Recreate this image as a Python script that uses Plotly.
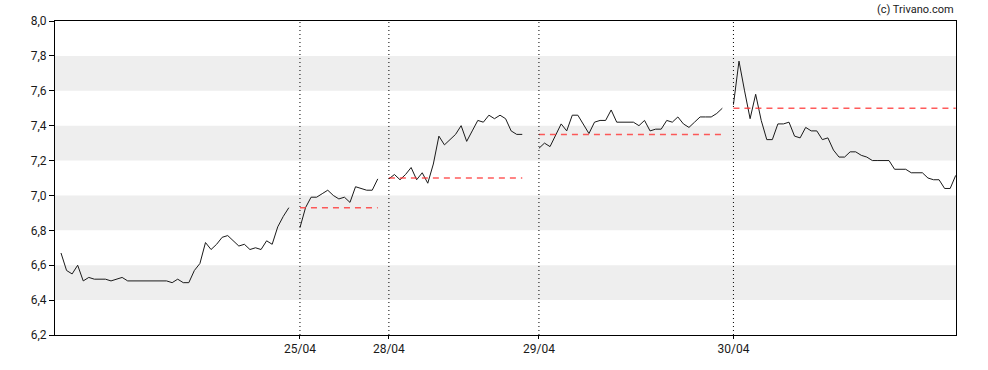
import plotly.graph_objects as go

# --- data -------------------------------------------------------------
day_24 = [6.67, 6.57, 6.55, 6.60, 6.51, 6.53, 6.52, 6.52, 6.52, 6.51,
          6.52, 6.53, 6.51, 6.51, 6.51, 6.51, 6.51, 6.51, 6.51, 6.51,
          6.50, 6.52, 6.50, 6.50, 6.57, 6.61, 6.73, 6.69, 6.72, 6.76,
          6.77, 6.74, 6.71, 6.72, 6.69, 6.70, 6.69, 6.74, 6.72, 6.82,
          6.88, 6.93]
day_25 = [6.815, 6.93, 6.99, 6.99, 7.01, 7.03, 7.00, 6.98, 6.99, 6.96,
          7.05, 7.04, 7.03, 7.03, 7.095]
day_28 = [7.095, 7.12, 7.09, 7.12, 7.16, 7.09, 7.13, 7.07, 7.18, 7.34,
          7.29, 7.32, 7.35, 7.40, 7.31, 7.37, 7.43, 7.42, 7.46, 7.44,
          7.46, 7.44, 7.37, 7.35, 7.35]
day_29 = [7.27, 7.30, 7.28, 7.35, 7.41, 7.37, 7.46, 7.46, 7.41, 7.355,
          7.42, 7.43, 7.43, 7.49, 7.42, 7.42, 7.42, 7.42, 7.40, 7.43,
          7.37, 7.38, 7.38, 7.43, 7.42, 7.45, 7.41, 7.39, 7.42, 7.45,
          7.45, 7.45, 7.47, 7.50]
day_30 = [7.52, 7.77, 7.60, 7.44, 7.58, 7.43, 7.32, 7.32, 7.41, 7.41,
          7.42, 7.34, 7.33, 7.39, 7.37, 7.37, 7.32, 7.33, 7.26, 7.22,
          7.22, 7.25, 7.25, 7.23, 7.22, 7.20, 7.20, 7.20, 7.20, 7.15,
          7.15, 7.15, 7.13, 7.13, 7.13, 7.10, 7.09, 7.09, 7.04, 7.04,
          7.115]

days = [day_24, day_25, day_28, day_29, day_30]
day_start = [0, 43, 59, 86, 121]          # slot index where each session begins
day_labels = ["", "25/04", "28/04", "29/04", "30/04"]
prev_close = [None, 6.93, 7.10, 7.35, 7.50]

y_ticks = [6.2, 6.4, 6.6, 6.8, 7.0, 7.2, 7.4, 7.6, 7.8, 8.0]
y_tick_text = [f"{v:.1f}".replace(".", ",") for v in y_ticks]
bands = [(6.4, 6.6), (6.8, 7.0), (7.2, 7.4), (7.6, 7.8)]

# --- figure -----------------------------------------------------------
fig = go.Figure()

x_min, x_max = -1.08, 161.05

shapes = []
for lo, hi in bands:
    shapes.append(dict(type="rect", xref="paper", yref="y", x0=0, x1=1,
                       y0=lo, y1=hi, fillcolor="#eeeeee", line_width=0,
                       layer="below"))
for s, lab in zip(day_start, day_labels):
    if lab:
        shapes.append(dict(type="line", xref="x", yref="paper", x0=s, x1=s,
                           y0=0, y1=1, line=dict(color="#000000", width=1,
                                                 dash="1px,3px"),
                           layer="above"))

for vals, s in zip(days, day_start):
    xs = list(range(s, s + len(vals)))
    fig.add_trace(go.Scatter(x=xs, y=vals, mode="lines",
                             line=dict(color="#1a1a1a", width=1),
                             hoverinfo="skip", showlegend=False))

for vals, s, pc in zip(days, day_start, prev_close):
    if pc is None:
        continue
    fig.add_trace(go.Scatter(x=[s, s + len(vals) - 1], y=[pc, pc],
                             mode="lines",
                             line=dict(color="rgba(255,50,50,0.8)", width=1.5,
                                       dash="6px,5px"),
                             hoverinfo="skip", showlegend=False))

tick_vals = [s for s, lab in zip(day_start, day_labels) if lab]
tick_text = [lab for lab in day_labels if lab]

fig.update_layout(
    width=988, height=370,
    margin=dict(l=55, r=32, t=21, b=35),
    paper_bgcolor="#ffffff", plot_bgcolor="#ffffff",
    font=dict(family="Roboto, Arial, sans-serif", size=12, color="#1a1a1a"),
    shapes=shapes,
    hovermode=False,
    xaxis=dict(range=[x_min, x_max], showgrid=False, zeroline=False,
               automargin=False, fixedrange=True,
               tickmode="array", tickvals=tick_vals, ticktext=tick_text,
               ticks="outside", ticklen=3, tickcolor="#000000",
               showline=True, linecolor="#000000", linewidth=1, mirror=True),
    yaxis=dict(range=[6.2, 8.0], showgrid=False, zeroline=False,
               automargin=False, fixedrange=True,
               tickmode="array", tickvals=y_ticks, ticktext=y_tick_text,
               ticks="outside", ticklen=5, tickcolor="#000000",
               showline=True, linecolor="#000000", linewidth=1, mirror=True),
    annotations=[dict(text="(c) Trivano.com", xref="paper", yref="paper",
                      x=1.0, y=1.0, xanchor="right", yanchor="bottom",
                      yshift=3, showarrow=False,
                      font=dict(size=11, color="#1a1a1a"))],
)

fig.write_html("out.html",
               config={"displayModeBar": False, "staticPlot": True},
               post_script="document.body.style.margin='0';"
                           "document.body.style.overflow='hidden';")
